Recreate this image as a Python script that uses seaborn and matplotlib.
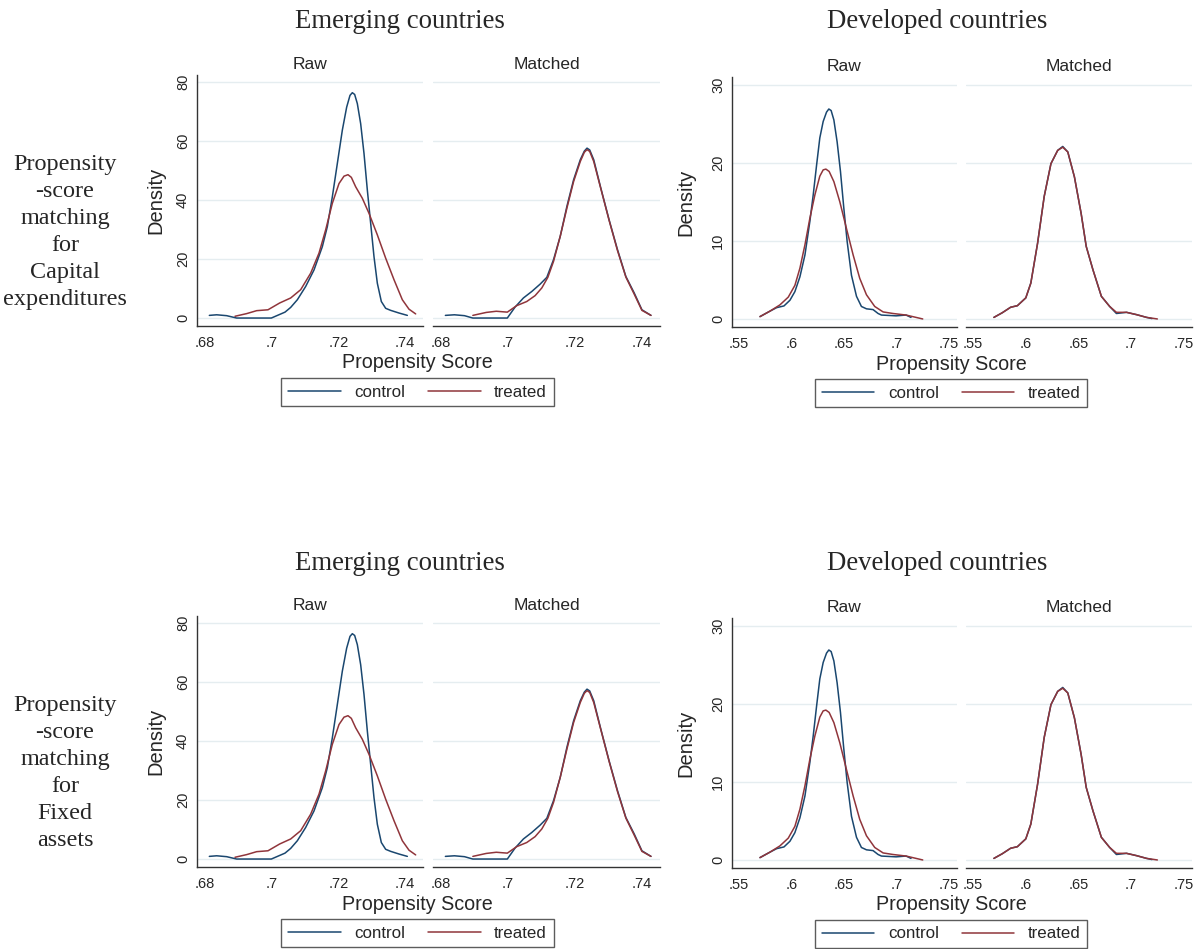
import numpy as np
import pandas as pd
import seaborn as sns
import matplotlib.pyplot as plt
from matplotlib.lines import Line2D

# ---- data (same curves are shown in both rows) ----
em_raw_ctrl_x = [0.6813, 0.6835, 0.6865, 0.6895, 0.6999, 0.7040, 0.7057, 0.7077, 0.7102, 0.7127,
                 0.7152, 0.7167, 0.7182, 0.7197, 0.7212, 0.7225, 0.7235, 0.7242, 0.7249, 0.7257,
                 0.7267, 0.7277, 0.7287, 0.7297, 0.7307, 0.7317, 0.7329, 0.7342, 0.7357, 0.7382,
                 0.7407]
em_raw_ctrl_y = [0.9, 1.1, 0.8, 0.0, 0.0, 2.0, 3.6, 6.2, 10.7, 16.3,
                 24.2, 31.0, 41.1, 52.4, 63.7, 71.5, 75.5, 76.4, 75.8, 72.7,
                 65.9, 55.8, 43.4, 32.1, 20.8, 11.8, 5.6, 3.3, 2.6, 1.7,
                 0.9]
em_raw_trt_x = [0.6890, 0.6925, 0.6955, 0.6989, 0.7024, 0.7057, 0.7087, 0.7117, 0.7142, 0.7162,
                0.7182, 0.7202, 0.7217, 0.7229, 0.7239, 0.7252, 0.7272, 0.7292, 0.7317, 0.7342,
                0.7367, 0.7392, 0.7412, 0.7432]
em_raw_trt_y = [0.6, 1.5, 2.5, 2.8, 5.1, 6.8, 9.6, 15.2, 22.0, 29.9,
                38.9, 45.6, 48.1, 48.6, 47.7, 44.5, 40.6, 35.5, 28.2, 20.3,
                13.0, 6.2, 3.0, 1.4]
em_mat_ctrl_x = [0.6813, 0.6840, 0.6870, 0.6895, 0.6998, 0.7021, 0.7046, 0.7071, 0.7096, 0.7116,
                 0.7136, 0.7156, 0.7176, 0.7196, 0.7216, 0.7228, 0.7236, 0.7244, 0.7256, 0.7276,
                 0.7302, 0.7327, 0.7352, 0.7377, 0.7400, 0.7427]
em_mat_ctrl_y = [0.9, 1.1, 0.8, 0.0, 0.0, 3.7, 6.8, 9.0, 11.5, 13.8,
                 19.8, 27.7, 37.9, 46.9, 53.7, 56.6, 57.6, 57.0, 53.7, 44.6,
                 33.3, 23.2, 14.1, 8.5, 2.8, 0.9]
em_mat_trt_x = [0.6895, 0.6935, 0.6965, 0.6998, 0.7026, 0.7056, 0.7081, 0.7101, 0.7119, 0.7136,
                0.7156, 0.7176, 0.7196, 0.7216, 0.7228, 0.7236, 0.7244, 0.7256, 0.7276, 0.7302,
                0.7327, 0.7352, 0.7377, 0.7400, 0.7427]
em_mat_trt_y = [0.9, 1.9, 2.3, 2.0, 4.2, 5.6, 7.6, 10.2, 13.8, 19.2,
                27.7, 37.3, 46.3, 53.1, 56.2, 57.1, 56.5, 53.1, 44.4, 33.1,
                22.9, 13.9, 8.1, 2.6, 0.9]

dv_raw_ctrl_x = [0.5700, 0.5795, 0.5859, 0.5929, 0.5986, 0.6033, 0.6081, 0.6129, 0.6176, 0.6208,
                 0.6240, 0.6271, 0.6303, 0.6335, 0.6357, 0.6379, 0.6405, 0.6436, 0.6468, 0.6500,
                 0.6532, 0.6573, 0.6621, 0.6668, 0.6716, 0.6779, 0.6827, 0.6859, 0.6999, 0.7094,
                 0.7141]
dv_raw_ctrl_y = [0.3, 1.0, 1.45, 1.67, 2.4, 3.5, 5.4, 8.2, 12.5, 15.9,
                 19.7, 23.2, 25.3, 26.5, 26.9, 26.7, 25.5, 22.7, 18.9, 14.2,
                 9.9, 5.6, 2.9, 1.6, 1.3, 1.2, 0.7, 0.5, 0.4, 0.5,
                 0.2]
dv_raw_trt_x = [0.5700, 0.5795, 0.5890, 0.5970, 0.6033, 0.6081, 0.6129, 0.6176, 0.6224, 0.6271,
                0.6303, 0.6329, 0.6360, 0.6405, 0.6462, 0.6525, 0.6589, 0.6652, 0.6716, 0.6795,
                0.6875, 0.6970, 0.7094, 0.7253]
dv_raw_trt_y = [0.3, 1.0, 1.8, 2.8, 4.3, 6.5, 9.5, 12.9, 15.9, 18.3,
                19.1, 19.2, 18.9, 17.6, 15.0, 11.6, 8.2, 5.2, 3.1, 1.6,
                0.9, 0.7, 0.5, 0.0]
dv_mat_ctrl_x = [0.5698, 0.5778, 0.5857, 0.5921, 0.6001, 0.6049, 0.6113, 0.6176, 0.6240, 0.6304,
                 0.6352, 0.6400, 0.6463, 0.6527, 0.6575, 0.6639, 0.6719, 0.6798, 0.6862, 0.6958,
                 0.7054, 0.7149, 0.7200]
dv_mat_ctrl_y = [0.2, 0.8, 1.5, 1.7, 2.7, 4.6, 9.7, 15.7, 19.9, 21.6,
                 22.1, 21.4, 18.2, 13.5, 9.3, 6.3, 2.9, 1.6, 0.7, 0.85,
                 0.55, 0.2, 0.05]
dv_mat_trt_x = [0.5698, 0.5778, 0.5857, 0.5921, 0.6001, 0.6049, 0.6113, 0.6176, 0.6240, 0.6304,
                0.6352, 0.6400, 0.6463, 0.6527, 0.6575, 0.6639, 0.6719, 0.6798, 0.6862, 0.6958,
                0.7054, 0.7149, 0.7251]
dv_mat_trt_y = [0.2, 0.8, 1.5, 1.7, 2.7, 4.6, 9.7, 15.7, 19.9, 21.6,
                22.0, 21.4, 18.2, 13.5, 9.3, 6.3, 2.9, 1.6, 0.85, 0.85,
                0.55, 0.2, 0.0]

em_xticks = [0.68, 0.70, 0.72, 0.74]
em_xticklabels = ['.68', '.7', '.72', '.74']
em_yticks = [0, 20, 40, 60, 80]
dv_xticks = [0.55, 0.60, 0.65, 0.70, 0.75]
dv_xticklabels = ['.55', '.6', '.65', '.7', '.75']
dv_yticks = [0, 10, 20, 30]

group_titles = ['Emerging countries', 'Developed countries']
panel_titles = ['Raw', 'Matched']
series_labels = ['control', 'treated']
row_labels = ['Propensity\n-score\nmatching\nfor\nCapital\nexpenditures',
              'Propensity\n-score\nmatching\nfor\nFixed\nassets']

BLUE = '#1a476f'
RED = '#90353b'
GRID = '#e5edf0'
SPINE = '#333333'

sns.set_style('white')
plt.rcParams['font.family'] = ['Liberation Sans', 'DejaVu Sans']

W, H = 1202, 949
fig = plt.figure(figsize=(W / 100, H / 100), dpi=100)


def px_axes(l, r, t, b):
    return fig.add_axes([l / W, 1 - b / H, (r - l) / W, (b - t) / H])


def draw_group(dy, boxes, curves, xlim, ylim, xticks, xlabels, yticks, title, title_xy, label_x, leg_xy):
    for i, (l, r, t, b) in enumerate(boxes):
        ax = px_axes(l, r, t + dy, b + dy)
        (cx, cy), (tx, ty) = curves[i]
        df_c = pd.DataFrame({'x': cx, 'y': cy})
        df_t = pd.DataFrame({'x': tx, 'y': ty})
        sns.lineplot(data=df_c, x='x', y='y', ax=ax, color=BLUE, lw=1.1, sort=False, estimator=None)
        sns.lineplot(data=df_t, x='x', y='y', ax=ax, color=RED, lw=1.1, sort=False, estimator=None)
        ax.set_xlim(*xlim)
        ax.set_ylim(*ylim)
        ax.set_yticks(yticks)
        ax.set_xticks(xticks)
        ax.set_xticklabels(xlabels)
        for y in yticks:
            ax.axhline(y, color=GRID, lw=1.0, zorder=0)
        for s in ['top', 'right']:
            ax.spines[s].set_visible(False)
        ax.spines['bottom'].set_color(SPINE)
        ax.spines['bottom'].set_linewidth(1.0)
        ax.tick_params(axis='x', direction='out', length=4, width=0.9, color=SPINE,
                       labelsize=10.5, pad=3)
        ax.set_xlabel('')
        ax.set_ylabel('')
        ax.set_title(panel_titles[i], fontsize=12.5, pad=4)
        if i == 0:
            ax.spines['left'].set_color(SPINE)
            ax.spines['left'].set_linewidth(1.0)
            ax.tick_params(axis='y', direction='out', length=4, width=0.9, color=SPINE,
                           labelsize=10.5, pad=1)
            for lab in ax.get_yticklabels():
                lab.set_rotation(90)
                lab.set_va('center')
            ax.set_ylabel('Density', fontsize=14.5)
            ax.yaxis.set_label_coords(label_x, 0.5)
        else:
            ax.spines['left'].set_visible(False)
            ax.tick_params(axis='y', left=False, labelleft=False)
    fig.text(title_xy[0] / W, 1 - (title_xy[1] + dy) / H, title,
             family=['Liberation Serif', 'DejaVu Serif'], fontsize=19.3, ha='center', va='center')
    fig.text(leg_xy[0] / W, 1 - (leg_xy[1] - 29 + dy) / H, 'Propensity Score',
             fontsize=14.2, ha='center', va='center')
    handles = [Line2D([], [], color=BLUE, lw=1.1), Line2D([], [], color=RED, lw=1.1)]
    leg = fig.legend(handles, series_labels, loc='center',
                     bbox_to_anchor=(leg_xy[0] / W, 1 - (leg_xy[1] + dy) / H),
                     ncol=2, frameon=True, fancybox=False, fontsize=12.2,
                     handlelength=3.1, columnspacing=1.35, handletextpad=0.8,
                     borderpad=0.4, borderaxespad=0)
    leg.get_frame().set_edgecolor(SPINE)
    leg.get_frame().set_linewidth(1.0)


em_curves = [((em_raw_ctrl_x, em_raw_ctrl_y), (em_raw_trt_x, em_raw_trt_y)),
             ((em_mat_ctrl_x, em_mat_ctrl_y), (em_mat_trt_x, em_mat_trt_y))]
dv_curves = [((dv_raw_ctrl_x, dv_raw_ctrl_y), (dv_raw_trt_x, dv_raw_trt_y)),
             ((dv_mat_ctrl_x, dv_mat_ctrl_y), (dv_mat_trt_x, dv_mat_trt_y))]

for row, dy in enumerate([0, 541]):
    draw_group(dy, [(197, 423, 75, 326), (433, 660, 75, 326)], em_curves,
               (0.6776, 0.7454), (-2.7, 82.4), em_xticks, em_xticklabels, em_yticks,
               group_titles[0], (400, 22), -0.142, (417.5, 392))
    draw_group(dy, [(732, 957, 77, 327), (966, 1192, 77, 327)], dv_curves,
               (0.5433, 0.7580), (-1.03, 31.0), dv_xticks, dv_xticklabels, dv_yticks,
               group_titles[1], (937, 22), -0.164, (951, 393))
    fig.text(65 / W, 1 - (232 + dy) / H, row_labels[row],
             family=['Liberation Serif', 'DejaVu Serif'], fontsize=17.4,
             ha='center', va='center', linespacing=1.38)

fig.savefig('out.png', dpi=100, facecolor='white')
